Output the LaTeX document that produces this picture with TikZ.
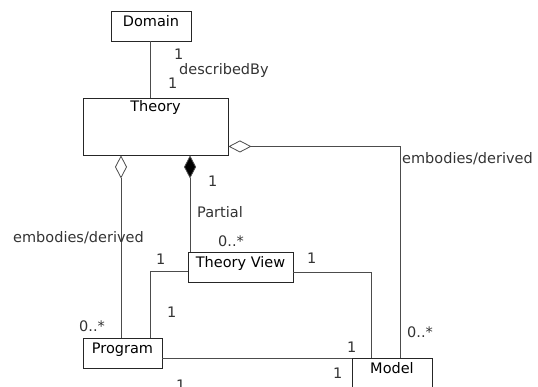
\documentclass[tikz,border=0pt]{standalone}
\usepackage{fontspec}
\setmainfont{DejaVu Sans}
\usetikzlibrary{arrows.meta, shadows}

\tikzset{
    cls/.style={draw=black!85, fill=white, line width=0.9pt,
        drop shadow={shadow xshift=1.2pt, shadow yshift=-1.2pt, fill=black!45, opacity=0.6},
        inner xsep=2pt, inner ysep=3pt, text height=12.5pt, text depth=11.5pt,
        font=\fontsize{14.5}{17}\selectfont},
    link/.style={draw=black!70, line width=0.8pt},
    aggr/.style={link, -{Diamond[open, fill=white, length=23pt, width=12pt, line width=0.8pt]}},
    comp/.style={link, -{Diamond[fill=black, length=23pt, width=12pt]}},
    mult/.style={anchor=base west, inner sep=0pt, text=black!80,
        font=\fontsize{14.5}{17}\selectfont}
}

\begin{document}
\begin{tikzpicture}[x=1pt, y=-1pt]
    \useasboundingbox (0,0) rectangle (538,387);
    \clip (0,0) rectangle (538,387);

    % classes
    \node[cls, minimum width=80pt] (domain) at (151,26) {Domain};
    \node[cls, minimum width=145pt, text height=11pt, text depth=40pt] (theory) at (155.5,126.5) {Theory};
    \node[cls, minimum width=105pt] (tview) at (240.5,267) {Theory View};
    \node[cls, minimum width=79pt] (program) at (122.5,353) {Program};
    \node[cls, minimum width=80pt] (model) at (392,373) {Model};

    % associations
    \draw[link] (domain.south -| 150,0) -- (theory.north -| 150,0);
    \draw[aggr] (program.north -| 121,0) -- (theory.south -| 121,0);
    \draw[comp] ([xshift=2.5pt]tview.north west) -- ([xshift=2.5pt]tview.north west |- theory.south);
    \draw[aggr] ([xshift=8pt]model.north) |- ([yshift=9pt]theory.south east);
    \draw[link] ([yshift=-5pt]tview.east) -| ([xshift=-21pt]model.north);
    \draw[link] ([yshift=-4pt]tview.west) -| ([xshift=27.5pt]program.north);
    \draw[link] ([yshift=-5pt]program.east) -- ([yshift=-5pt]program.east -| model.west);

    % labels
    \node[mult] (l1) at (174,60) {1};
    \node[mult] (l2) at (179,75) {describedBy};
    \node[mult] (l3) at (168,89) {1};
    \node[mult] (l4) at (208,187) {1};
    \node[mult] (l5) at (402,164) {embodies/derived};
    \node[mult] (l6) at (197,218) {Partial};
    \node[mult] (l7) at (218,247) {0..*};
    \node[mult] (l8) at (13,243) {embodies/derived};
    \node[mult] (l9) at (156,265) {1};
    \node[mult] (l10) at (307,264) {1};
    \node[mult] (l11) at (167,317) {1};
    \node[mult] (l12) at (79,331) {0..*};
    \node[mult] (l13) at (407,337) {0..*};
    \node[mult] (l14) at (347,352) {1};
    \node[mult] (l15) at (333,378) {1};
    \node[mult] (l16) at (176,390) {1};
\end{tikzpicture}
\end{document}
